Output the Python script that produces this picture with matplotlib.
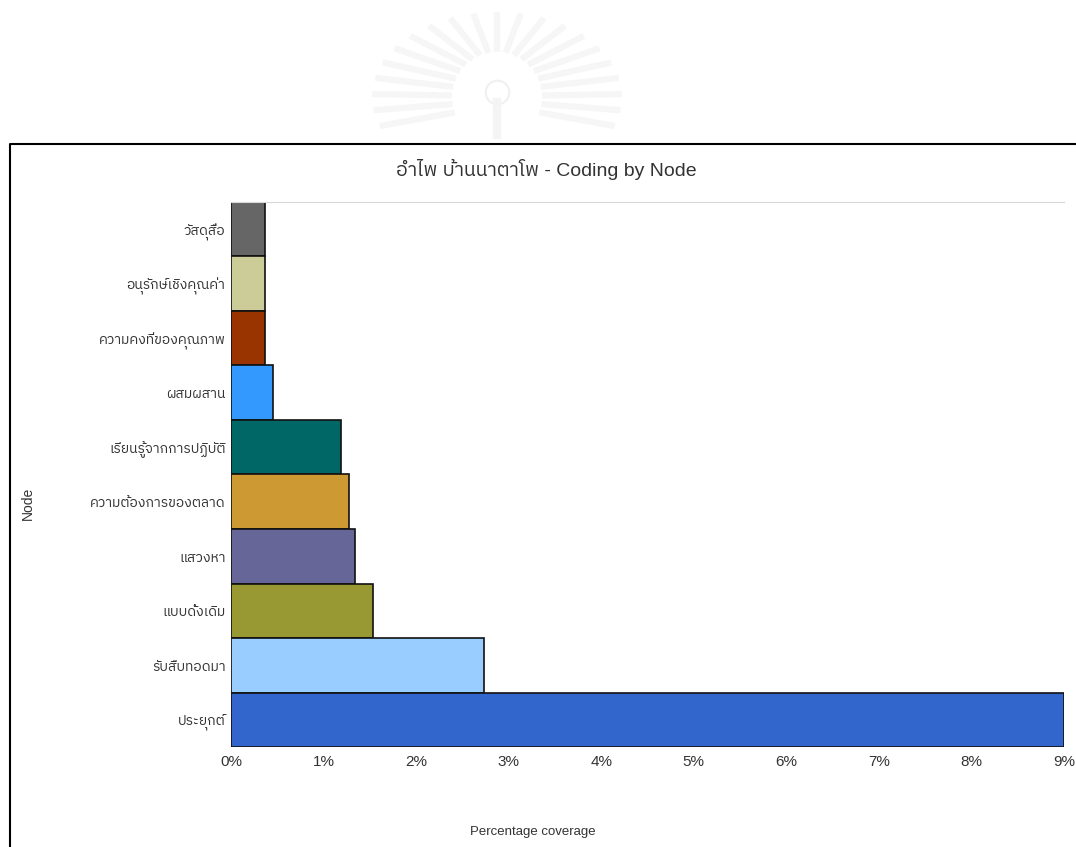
import numpy as np
import matplotlib
matplotlib.use("Agg")
import matplotlib.pyplot as plt
from matplotlib import font_manager as fm

nodes = ["วัสดุสื่อ", "อนุรักษ์เชิงคุณค่า", "ความคงที่ของคุณภาพ", "ผสมผสาน", "เรียนรู้จากการปฏิบัติ",
         "ความต้องการของตลาด", "แสวงหา", "แบบดั้งเดิม", "รับสืบทอดมา", "ประยุกต์"]
coverage = [0.365, 0.365, 0.365, 0.45, 1.19, 1.27, 1.34, 1.53, 2.73, 9.0]
colors = ["#666666", "#CCCC99", "#993300", "#3399FF", "#006666",
          "#CC9933", "#666699", "#999933", "#99CCFF", "#3366CC"]
ticks = list(range(10))
title = "อำไพ บ้านนาตาโพ - Coding by Node"

W, H = 1076, 847
thai = [f.name for f in fm.fontManager.ttflist if "Thai" in f.name or "Garuda" in f.name or "Loma" in f.name]
plt.rcParams['font.family'] = ['Liberation Sans'] + sorted(set(thai))[:1] + ['DejaVu Sans']

fig = plt.figure(figsize=(W / 100, H / 100), dpi=100, facecolor="white")

# page background: watermark and outer frame, in pixel coordinates
bg = fig.add_axes([0, 0, 1, 1], zorder=0)
bg.set_xlim(0, W)
bg.set_ylim(H, 0)
bg.axis("off")
for deg in np.arange(-110, 111, 11):
    a = np.radians(deg)
    bg.plot([497 + 45 * np.sin(a), 497 + 125 * np.sin(a)],
            [97 - 45 * np.cos(a), 97 - 85 * np.cos(a)],
            color="#f6f6f6", lw=4.5, solid_capstyle="butt")
bg.plot([497], [92], "o", ms=17, mfc="white", mec="#f0f0f0", mew=1.5)
bg.plot([497, 497], [102, 135], color="#f4f4f4", lw=6)
bg.plot([10, 10, W], [H, 144, 144], color="black", lw=1.5)

ax = fig.add_axes([231 / W, 1 - 747 / H, (1064 - 231) / W, (747 - 202) / H], zorder=1)
ax.patch.set_alpha(0)
ax.barh(range(len(nodes)), coverage, height=1.0, color=colors, edgecolor="#111111", linewidth=1.2)
ax.set_xlim(0, 9)
ax.set_ylim(len(nodes) - 0.5, -0.5)
ax.set_yticks(range(len(nodes)), nodes)
ax.set_xticks(ticks, [f"{t}%" for t in ticks])
ax.tick_params(length=0, labelcolor="#333333")
ax.tick_params(axis="y", pad=4, labelsize=10)
ax.tick_params(axis="x", pad=6, labelsize=11)
for s in ["left", "right", "bottom"]:
    ax.spines[s].set_visible(False)
ax.spines["top"].set_color("#d8d8d8")

fig.text(546 / W, 1 - 169 / H, title, ha="center", va="center", fontsize=14, color="#333333")
fig.text(533 / W, 1 - 832 / H, "Percentage coverage", ha="center", va="center", fontsize=9.5, color="#333333")
fig.text(28 / W, 1 - 503 / H, "Node", ha="center", va="center", rotation=90, fontsize=10, color="#333333")

fig.savefig("out.png", dpi=100)
